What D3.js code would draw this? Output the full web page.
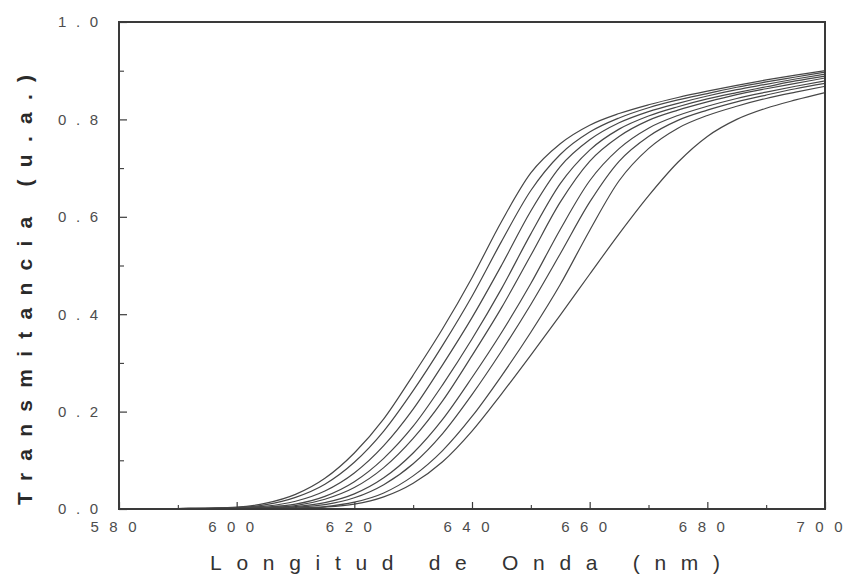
<!DOCTYPE html>
<html>
<head>
<meta charset="utf-8">
<script src="https://cdn.jsdelivr.net/npm/d3@7"></script>
<style>
  body { margin: 0; background: #fff; }
  svg { display: block; }
</style>
</head>
<body>
<svg id="chart" width="854" height="578"></svg>
<script>
// Wavelength grid (nm) shared by every transmittance curve
const wavelengths = [580, 590, 600, 605, 610, 615, 620, 625, 630, 635, 640, 645, 650, 655, 660, 665, 670, 675, 680, 685, 690, 695, 700];

// Transmittance (a.u.) of each sample, left-most edge first
const curve1 = [0.000, 0.001, 0.004, 0.012, 0.030, 0.063, 0.115, 0.185, 0.275, 0.370, 0.475, 0.590, 0.690, 0.750, 0.788, 0.812, 0.830, 0.845, 0.858, 0.870, 0.881, 0.891, 0.900];
const curve2 = [0.000, 0.001, 0.003, 0.009, 0.024, 0.051, 0.096, 0.160, 0.243, 0.336, 0.437, 0.549, 0.654, 0.728, 0.774, 0.803, 0.824, 0.840, 0.853, 0.866, 0.877, 0.887, 0.897];
const curve3 = [0.000, 0.001, 0.003, 0.006, 0.016, 0.037, 0.074, 0.130, 0.205, 0.296, 0.393, 0.500, 0.612, 0.703, 0.758, 0.793, 0.816, 0.833, 0.848, 0.861, 0.872, 0.883, 0.893];
const curve4 = [0.000, 0.000, 0.002, 0.004, 0.010, 0.026, 0.056, 0.104, 0.170, 0.255, 0.349, 0.452, 0.565, 0.668, 0.737, 0.780, 0.807, 0.826, 0.842, 0.855, 0.867, 0.879, 0.889];
const curve5 = [0.000, 0.000, 0.001, 0.003, 0.007, 0.020, 0.044, 0.085, 0.145, 0.222, 0.315, 0.413, 0.521, 0.630, 0.714, 0.765, 0.798, 0.819, 0.836, 0.851, 0.863, 0.874, 0.885];
const curve6 = [0.000, 0.000, 0.001, 0.002, 0.005, 0.013, 0.031, 0.064, 0.115, 0.184, 0.270, 0.362, 0.463, 0.574, 0.674, 0.740, 0.782, 0.808, 0.827, 0.843, 0.856, 0.868, 0.879];
const curve7 = [0.000, 0.000, 0.001, 0.002, 0.004, 0.009, 0.023, 0.050, 0.093, 0.155, 0.235, 0.324, 0.420, 0.524, 0.630, 0.714, 0.765, 0.798, 0.819, 0.836, 0.850, 0.863, 0.874];
const curve8 = [0.000, 0.000, 0.000, 0.001, 0.002, 0.005, 0.014, 0.033, 0.068, 0.120, 0.190, 0.273, 0.363, 0.461, 0.572, 0.674, 0.740, 0.782, 0.808, 0.827, 0.843, 0.856, 0.868];
const curve9 = [0.000, 0.000, 0.000, 0.001, 0.002, 0.004, 0.010, 0.025, 0.053, 0.097, 0.160, 0.236, 0.316, 0.398, 0.482, 0.565, 0.643, 0.712, 0.765, 0.800, 0.823, 0.840, 0.855];

const allCurves = [curve1, curve2, curve3, curve4, curve5, curve6, curve7, curve8, curve9];

// Axis ticks and their labels
const xMajorTicks = [580, 600, 620, 640, 660, 680, 700];
const xMinorTicks = [590, 610, 630, 650, 670, 690];
const xTickLabels = ["580", "600", "620", "640", "660", "680", "700"];
const yMajorTicks = [0.0, 0.2, 0.4, 0.6, 0.8, 1.0];
const yMinorTicks = [0.1, 0.3, 0.5, 0.7, 0.9];
const yTickLabels = ["0.0", "0.2", "0.4", "0.6", "0.8", "1.0"];

const xTitle = "Longitud de Onda (nm)";
const yTitle = "Transmitancia (u.a.)";

const svg = d3.select("#chart");
const frame = { left: 119, right: 825, top: 22, bottom: 509 };

const x = d3.scaleLinear().domain([580, 700]).range([frame.left, frame.right]);
const y = d3.scaleLinear().domain([0, 1]).range([frame.bottom, frame.top]);

const ink = "#3a3a3a";
const labelInk = "#4d4d4d";
const font = "'Liberation Sans', Arial, sans-serif";

// Curves
const line = d3.line()
  .x((d, i) => x(wavelengths[i]))
  .y(d => y(d))
  .curve(d3.curveMonotoneX);

svg.append("g")
  .selectAll("path")
  .data(allCurves)
  .join("path")
  .attr("d", line)
  .attr("fill", "none")
  .attr("stroke", "#474747")
  .attr("stroke-width", 1.2);

// Bottom axis: major + minor ticks pointing inward
const xAxisMajor = d3.axisBottom(x)
  .tickValues(xMajorTicks)
  .tickSize(-7)
  .tickPadding(12)
  .tickFormat((d, i) => xTickLabels[i]);

const gx = svg.append("g")
  .attr("transform", `translate(0,${frame.bottom})`)
  .call(xAxisMajor);
gx.select(".domain").remove();
gx.selectAll(".tick line").attr("stroke", ink).attr("stroke-width", 1.2);
gx.selectAll(".tick text")
  .attr("x", -6)
  .attr("font-family", font)
  .attr("font-size", 15)
  .attr("fill", labelInk)
  .attr("textLength", 46)
  .attr("lengthAdjust", "spacing");

const gxMinor = svg.append("g")
  .attr("transform", `translate(0,${frame.bottom})`)
  .call(d3.axisBottom(x).tickValues(xMinorTicks).tickSize(-4).tickFormat(""));
gxMinor.select(".domain").remove();
gxMinor.selectAll(".tick line").attr("stroke", ink).attr("stroke-width", 1.1);

// Left axis
const yAxisMajor = d3.axisLeft(y)
  .tickValues(yMajorTicks)
  .tickSize(-8)
  .tickPadding(21)
  .tickFormat((d, i) => yTickLabels[i]);

const gy = svg.append("g")
  .attr("transform", `translate(${frame.left},0)`)
  .call(yAxisMajor);
gy.select(".domain").remove();
gy.selectAll(".tick line").attr("stroke", ink).attr("stroke-width", 1.2);
gy.selectAll(".tick text")
  .attr("font-family", font)
  .attr("font-size", 15)
  .attr("fill", labelInk)
  .attr("textLength", 40)
  .attr("lengthAdjust", "spacing");

const gyMinor = svg.append("g")
  .attr("transform", `translate(${frame.left},0)`)
  .call(d3.axisLeft(y).tickValues(yMinorTicks).tickSize(-5).tickFormat(""));
gyMinor.select(".domain").remove();
gyMinor.selectAll(".tick line").attr("stroke", ink).attr("stroke-width", 1.1);

// Plot frame
svg.append("rect")
  .attr("x", frame.left)
  .attr("y", frame.top)
  .attr("width", frame.right - frame.left)
  .attr("height", frame.bottom - frame.top)
  .attr("fill", "none")
  .attr("stroke", ink)
  .attr("stroke-width", 2);

// Axis titles
svg.append("text")
  .attr("x", 465)
  .attr("y", 570)
  .attr("text-anchor", "middle")
  .attr("font-family", font)
  .attr("font-size", 21)
  .attr("fill", "#333")
  .attr("textLength", 510)
  .attr("lengthAdjust", "spacing")
  .text(xTitle);

svg.append("text")
  .attr("transform", "translate(32,290) rotate(-90)")
  .attr("text-anchor", "middle")
  .attr("font-family", font)
  .attr("font-size", 21)
  .attr("font-weight", "bold")
  .attr("fill", "#2a2a2a")
  .attr("textLength", 430)
  .attr("lengthAdjust", "spacing")
  .text(yTitle);
</script>
</body>
</html>
